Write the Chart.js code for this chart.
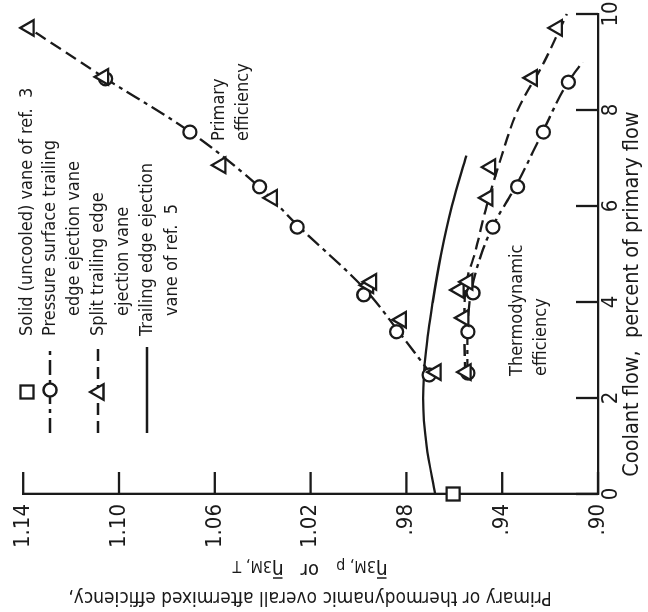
<!DOCTYPE html>
<html>
<head>
<meta charset="utf-8">
<script src="https://cdn.jsdelivr.net/npm/chart.js@4.4.1/dist/chart.umd.min.js"></script>
<style>
  html, body { margin: 0; padding: 0; background: #fff; overflow: hidden; width: 648px; height: 612px; }
  /* the figure is printed turned a quarter turn anticlockwise */
  #turn { position: absolute; left: 0; top: 0; width: 612px; height: 648px;
          transform-origin: 0 0; transform: translateY(612px) rotate(-90deg); }
</style>
</head>
<body>
<div id="turn"><canvas id="chart" width="612" height="648"></canvas></div>
<script>
  'use strict';

  const INK = '#1a1a1a';
  const FONT = '"DejaVu Sans Condensed", "DejaVu Sans", sans-serif';
  const LW = 2.3;
  const DASH_DOT = [15, 5, 4, 5];
  const DASHED = [12, 6];

  // Axis ticks
  const xTickValues = [0, 2, 4, 6, 8, 10];
  const xTickLabels = ['0', '2', '4', '6', '8', '10'];
  const yTickValues = [0.90, 0.94, 0.98, 1.02, 1.06, 1.10, 1.14];
  const yTickLabels = ['.90', '.94', '.98', '1.02', '1.06', '1.10', '1.14'];

  // Solid (uncooled) vane of ref. 3
  const solidX = [0];
  const solidY = [0.9605];

  // Pressure surface trailing edge ejection vane (circles)
  const pressPrimaryX = [2.48, 3.38, 4.15, 5.56, 6.40, 7.54, 8.65];
  const pressPrimaryY = [0.9705, 0.9841, 0.9978, 1.0256, 1.0413, 1.0704, 1.1056];
  const pressThermoX = [2.52, 3.38, 4.19, 5.56, 6.40, 7.54, 8.58];
  const pressThermoY = [0.9543, 0.9543, 0.9522, 0.9439, 0.9336, 0.9228, 0.9124];

  // Split trailing edge ejection vane (triangles)
  const splitPrimaryX = [2.54, 3.63, 4.35, 4.42, 6.17, 6.85, 8.69, 9.71];
  const splitPrimaryY = [0.9676, 0.9821, 0.9958, 0.9945, 1.0360, 1.0575, 1.1064, 1.1375];
  const splitThermoX = [2.54, 3.67, 4.25, 4.42, 6.17, 6.81, 8.67, 9.71];
  const splitThermoY = [0.9551, 0.9560, 0.9580, 0.9543, 0.9460, 0.9448, 0.9274, 0.9170];

  // Faired curves
  const primaryCurveX = [2.45, 3.4, 4.25, 5.6, 6.4, 7.55, 8.65];
  const primaryCurveY = [0.969, 0.9835, 0.997, 1.0255, 1.0415, 1.0705, 1.1055];
  const primaryTopCurveX = [8.65, 9.2, 9.75];
  const primaryTopCurveY = [1.1055, 1.1222, 1.139];
  const pressThermoCurveX = [2.5, 3.4, 4.2, 5.0, 5.6, 6.4, 7.5, 8.5, 9.0];
  const pressThermoCurveY = [0.9545, 0.9545, 0.953, 0.9487, 0.9437, 0.9345, 0.9235, 0.9135, 0.9065];
  const splitThermoCurveX = [2.5, 3.5, 4.4, 5.0, 6.0, 7.0, 8.0, 9.0, 10.0];
  const splitThermoCurveY = [0.9555, 0.9558, 0.955, 0.9515, 0.9465, 0.9405, 0.9335, 0.9225, 0.913];

  // Trailing edge ejection vane of ref. 5
  const ref5X = [0, 1, 2, 3, 4, 5, 6, 7.05];
  const ref5Y = [0.968, 0.9716, 0.973, 0.9718, 0.969, 0.9655, 0.961, 0.955];

  function pts(xs, ys) {
    return xs.map(function (x, i) { return { x: x, y: ys[i] }; });
  }

  function markers(xs, ys, style, radius) {
    return {
      data: pts(xs, ys),
      showLine: false,
      pointStyle: style,
      pointRadius: radius,
      pointBorderWidth: LW,
      pointBorderColor: INK,
      pointBackgroundColor: '#fff',
      clip: false,
      order: 1
    };
  }

  function curve(xs, ys, dash) {
    return {
      data: pts(xs, ys),
      showLine: true,
      pointRadius: 0,
      borderColor: INK,
      borderWidth: LW,
      borderDash: dash,
      cubicInterpolationMode: 'monotone',
      clip: false,
      order: 5
    };
  }

  function line(ctx, x1, y1, x2, y2) {
    ctx.beginPath();
    ctx.moveTo(x1, y1);
    ctx.lineTo(x2, y2);
    ctx.stroke();
  }

  function triangle(ctx, x, y, r) {
    ctx.beginPath();
    ctx.moveTo(x, y - r);
    ctx.lineTo(x + r * 0.866, y + r / 2);
    ctx.lineTo(x - r * 0.866, y + r / 2);
    ctx.closePath();
    ctx.fillStyle = '#fff';
    ctx.fill();
    ctx.stroke();
  }

  /**
   * Inward ticks, legend and the written labels.
   */
  const decor = {
    id: 'decor',
    beforeDatasetsDraw: function (chart) {
      const ctx = chart.ctx;
      const xs = chart.scales.x;
      const ys = chart.scales.y;
      ctx.save();
      ctx.strokeStyle = INK;
      ctx.lineWidth = LW;
      xTickValues.forEach(function (v) {
        const px = xs.getPixelForValue(v);
        line(ctx, px, ys.bottom, px, ys.bottom - 22);
      });
      yTickValues.forEach(function (v) {
        const py = ys.getPixelForValue(v);
        line(ctx, xs.left, py, xs.left + 22, py);
      });
      ctx.restore();
    },
    afterDraw: function (chart) {
      const ctx = chart.ctx;
      ctx.save();
      ctx.strokeStyle = INK;
      ctx.lineWidth = LW;

      // Legend symbols
      ctx.fillStyle = '#fff';
      ctx.fillRect(213.5, 20.5, 13, 13);
      ctx.strokeRect(213.5, 20.5, 13, 13);

      ctx.setLineDash(DASH_DOT);
      line(ctx, 179, 50, 265, 50);
      ctx.setLineDash([]);
      ctx.beginPath();
      ctx.arc(222, 50, 6.5, 0, Math.PI * 2);
      ctx.fill();
      ctx.stroke();

      ctx.setLineDash(DASHED);
      line(ctx, 179, 98, 265, 98);
      ctx.setLineDash([]);
      triangle(ctx, 220, 99, 9);

      line(ctx, 179, 147, 265, 147);

      // Legend text
      ctx.fillStyle = INK;
      ctx.textBaseline = 'middle';
      ctx.textAlign = 'left';
      ctx.font = '18px ' + FONT;
      ctx.fillText('Solid (uncooled) vane of ref.  3', 276, 27);
      ctx.fillText('Pressure surface trailing', 276, 50);
      ctx.fillText('edge ejection vane', 296, 74);
      ctx.fillText('Split trailing edge', 276, 98);
      ctx.fillText('ejection vane', 296, 123);
      ctx.fillText('Trailing edge ejection', 276, 147);
      ctx.fillText('vane of ref.  5', 296, 172);

      // Curve labels
      ctx.font = '18px ' + FONT;
      ctx.fillText('Primary', 471, 219);
      ctx.fillText('efficiency', 471, 243);
      ctx.fillText('Thermodynamic', 236, 517);
      ctx.fillText('efficiency', 236, 541);

      // X title
      ctx.textAlign = 'center';
      ctx.font = '21.5px ' + FONT;
      ctx.fillText('Coolant flow,  percent of primary flow', 318, 632);

      // Y title
      ctx.save();
      ctx.translate(15, 310);
      ctx.rotate(-Math.PI / 2);
      ctx.font = '19px ' + FONT;
      ctx.fillText('Primary or thermodynamic overall aftermixed efficiency,', 0, 0);
      ctx.restore();

      // Second title line: eta-bar 3M,p or eta-bar 3M,T
      ctx.save();
      ctx.translate(43, 310);
      ctx.rotate(-Math.PI / 2);
      ctx.textAlign = 'left';
      const big = '20px ' + FONT;
      const small = '16px ' + FONT;
      const parts = [
        ['η', big, 0, true], ['3M, p', small, 4, false],
        ['   or   ', big, 0, false],
        ['η', big, 0, true], ['3M, T', small, 4, false]
      ];
      let total = 0;
      parts.forEach(function (p) { ctx.font = p[1]; total += ctx.measureText(p[0]).width; });
      let cx = -total / 2;
      parts.forEach(function (p) {
        ctx.font = p[1];
        const w = ctx.measureText(p[0]).width;
        ctx.fillText(p[0], cx, p[2]);
        if (p[3]) {
          ctx.lineWidth = 1.5;
          line(ctx, cx + 1, -9, cx + w - 1, -9);
        }
        cx += w;
      });
      ctx.restore();

      ctx.restore();
    }
  };

  new Chart(document.getElementById('chart'), {
    type: 'scatter',
    data: {
      datasets: [
        Object.assign(markers(solidX, solidY, 'rect', 9.2), { order: 0 }),
        markers(splitPrimaryX, splitPrimaryY, 'triangle', 9),
        markers(splitThermoX, splitThermoY, 'triangle', 9),
        markers(pressPrimaryX, pressPrimaryY, 'circle', 6.5),
        markers(pressThermoX, pressThermoY, 'circle', 6.5),
        curve(primaryCurveX, primaryCurveY, DASH_DOT),
        curve(primaryTopCurveX, primaryTopCurveY, DASHED),
        curve(pressThermoCurveX, pressThermoCurveY, DASH_DOT),
        curve(splitThermoCurveX, splitThermoCurveY, DASHED),
        curve(ref5X, ref5Y, [])
      ]
    },
    options: {
      responsive: false,
      animation: false,
      devicePixelRatio: 1,
      layout: { padding: { top: 19, right: 14, bottom: 0, left: 0 } },
      plugins: {
        legend: { display: false },
        tooltip: { enabled: false }
      },
      scales: {
        x: {
          type: 'linear',
          min: 0,
          max: 10,
          afterBuildTicks: function (scale) {
            scale.ticks = xTickValues.map(function (v) { return { value: v }; });
          },
          afterFit: function (scale) { scale.height = 50; },
          grid: { drawOnChartArea: false, drawTicks: false },
          border: { color: INK, width: LW },
          ticks: {
            color: INK,
            autoSkip: false,
            maxRotation: 0,
            padding: 0,
            font: { family: FONT, size: 22 },
            callback: function (v) {
              return xTickLabels[xTickValues.indexOf(v)];
            }
          }
        },
        y: {
          type: 'linear',
          min: 0.90,
          max: 1.14,
          afterBuildTicks: function (scale) {
            scale.ticks = yTickValues.map(function (v) { return { value: v }; });
          },
          afterFit: function (scale) { scale.width = 118; },
          grid: { drawOnChartArea: false, drawTicks: false },
          border: { color: INK, width: LW },
          ticks: {
            color: INK,
            autoSkip: false,
            padding: 10,
            font: { family: FONT, size: 22 },
            callback: function (v) {
              const i = yTickValues.findIndex(function (t) { return Math.abs(t - v) < 1e-6; });
              return yTickLabels[i];
            }
          }
        }
      }
    },
    plugins: [decor]
  });
</script>
</body>
</html>
